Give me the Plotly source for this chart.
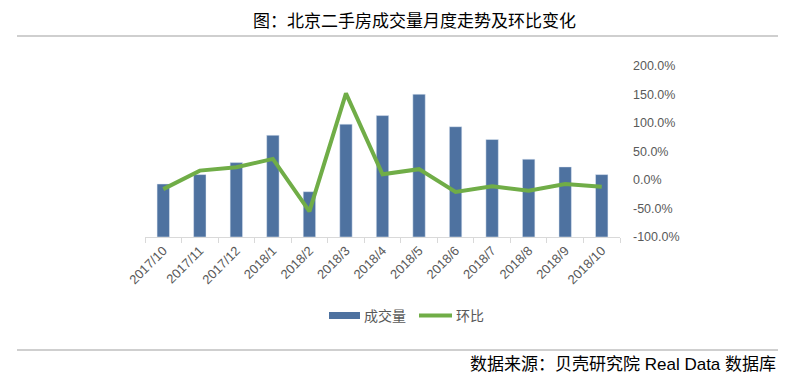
import plotly.graph_objects as go

months = ["2017/10", "2017/11", "2017/12", "2018/1", "2018/2", "2018/3", "2018/4",
          "2018/5", "2018/6", "2018/7", "2018/8", "2018/9", "2018/10"]
volume = [6200, 7300, 8700, 11900, 5300, 13200, 14200, 16700, 12900, 11400, 9100, 8200, 7300]
mom = [-0.16, 0.165, 0.225, 0.37, -0.55, 1.52, 0.10, 0.19, -0.21, -0.11, -0.19, -0.07, -0.12]
pct_ticks = [-1.0, -0.5, 0.0, 0.5, 1.0, 1.5, 2.0]
pct_labels = ["-100.0%", "-50.0%", "0.0%", "50.0%", "100.0%", "150.0%", "200.0%"]

BAR = "#4E72A0"
LINE = "#70AD47"
GRAY = "#595959"
FONT = "Liberation Sans, Noto Sans CJK SC, sans-serif"

W, H = 795, 383
L, R, T, B = 145, 175, 66, 146
PW, PH = W - L - R, H - T - B

def px(x):
    return (x - L) / PW

def py(y):
    return (H - B - y) / PH

fig = go.Figure()
fig.add_trace(go.Bar(x=months, y=volume, name="成交量", marker_color=BAR,
                     width=0.34, showlegend=False))
fig.add_trace(go.Scatter(x=months, y=mom, name="环比", yaxis="y2", mode="lines",
                         line=dict(color=LINE, width=4), showlegend=False))

fig.update_layout(
    width=W, height=H,
    margin=dict(l=L, r=R, t=T, b=B),
    paper_bgcolor="white", plot_bgcolor="white",
    font=dict(family=FONT, color=GRAY, size=12),
    xaxis=dict(type="category", showline=True, linecolor="#D9D9D9", linewidth=1,
               ticks="outside", tickson="boundaries", ticklen=5, tickcolor="#D9D9D9",
               tickangle=-45, tickfont=dict(size=13, color=GRAY), showgrid=False),
    yaxis=dict(range=[0, 20000], visible=False, showgrid=False),
    yaxis2=dict(overlaying="y", side="right", range=[-1.0, 2.0], tickvals=pct_ticks,
                ticktext=pct_labels, showgrid=False, showline=False, zeroline=False,
                tickfont=dict(size=12.5, color=GRAY), ticks="", ticklabelstandoff=12),
    showlegend=False,
)

shapes = [
    dict(type="line", xref="paper", yref="paper", x0=px(17), x1=px(778), y0=py(36), y1=py(36),
         line=dict(color="#BFBFBF", width=1.5)),
    dict(type="line", xref="paper", yref="paper", x0=px(17), x1=px(778), y0=py(350), y1=py(350),
         line=dict(color="#BFBFBF", width=1.5)),
    dict(type="rect", xref="paper", yref="paper", x0=px(329), x1=px(360), y0=py(319), y1=py(312),
         fillcolor=BAR, line=dict(width=0)),
    dict(type="line", xref="paper", yref="paper", x0=px(419), x1=px(452), y0=py(315.5), y1=py(315.5),
         line=dict(color=LINE, width=4)),
]
annotations = [
    dict(text="图：北京二手房成交量月度走势及环比变化", xref="paper", yref="paper",
         x=px(414), y=py(20), xanchor="center", yanchor="middle", showarrow=False,
         font=dict(size=17, color="black", family="Noto Sans CJK SC, sans-serif")),
    dict(text="数据来源：贝壳研究院 Real Data 数据库", xref="paper", yref="paper",
         x=px(778), y=py(364), xanchor="right", yanchor="middle", showarrow=False,
         font=dict(size=17, color="black", family="Liberation Sans, Noto Sans CJK SC, sans-serif")),
    dict(text="成交量", xref="paper", yref="paper", x=px(362), y=py(315.5), xanchor="left",
         yanchor="middle", showarrow=False, font=dict(size=14, color=GRAY)),
    dict(text="环比", xref="paper", yref="paper", x=px(454), y=py(315.5), xanchor="left",
         yanchor="middle", showarrow=False, font=dict(size=14, color=GRAY)),
]
fig.update_layout(shapes=shapes, annotations=annotations)

fig.write_html("out.html", config={"displayModeBar": False},
               post_script="document.body.style.margin='0';document.body.style.overflow='hidden';")
